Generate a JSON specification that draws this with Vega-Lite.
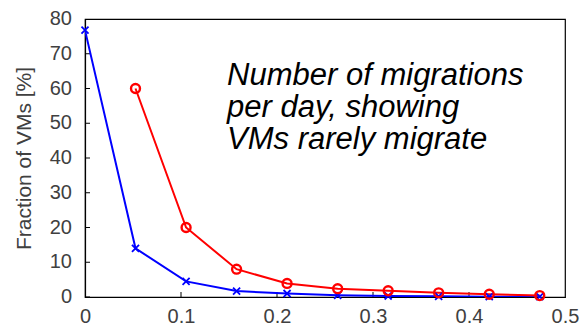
{
  "$schema": "https://vega.github.io/schema/vega-lite/v6.json",
  "width": 480,
  "height": 278,
  "autosize": {"type": "none"},
  "padding": {"left": 85, "top": 19, "right": 18, "bottom": 29},
  "background": "white",
  "config": {
    "view": {"stroke": "black", "strokeWidth": 1.2},
    "font": "Liberation Sans",
    "axis": {
      "grid": false,
      "domainColor": "black",
      "domainWidth": 1.2,
      "ticks": false,
      "labelFont": "Liberation Sans",
      "labelFontSize": 20,
      "labelColor": "#404040",
      "titleFont": "Liberation Sans",
      "titleFontWeight": "normal",
      "titleColor": "#404040"
    }
  },
  "datasets": {
    "series": [
      {"x": 0.0, "y": 76.8, "s": "blue"},
      {"x": 0.0526, "y": 14.0, "s": "blue"},
      {"x": 0.1053, "y": 4.5, "s": "blue"},
      {"x": 0.1579, "y": 1.7, "s": "blue"},
      {"x": 0.2105, "y": 1.0, "s": "blue"},
      {"x": 0.2632, "y": 0.5, "s": "blue"},
      {"x": 0.3158, "y": 0.3, "s": "blue"},
      {"x": 0.3684, "y": 0.2, "s": "blue"},
      {"x": 0.4211, "y": 0.1, "s": "blue"},
      {"x": 0.4737, "y": 0.1, "s": "blue"},
      {"x": 0.0526, "y": 60.0, "s": "red"},
      {"x": 0.1053, "y": 20.0, "s": "red"},
      {"x": 0.1579, "y": 8.0, "s": "red"},
      {"x": 0.2105, "y": 3.9, "s": "red"},
      {"x": 0.2632, "y": 2.4, "s": "red"},
      {"x": 0.3158, "y": 1.8, "s": "red"},
      {"x": 0.3684, "y": 1.2, "s": "red"},
      {"x": 0.4211, "y": 0.8, "s": "red"},
      {"x": 0.4737, "y": 0.4, "s": "red"}
    ],
    "xticks": [{"v": 0.1}, {"v": 0.2}, {"v": 0.3}, {"v": 0.4}],
    "yticks": [{"v": 0}, {"v": 10}, {"v": 20}, {"v": 30}, {"v": 40}, {"v": 50}, {"v": 60}, {"v": 70}, {"v": 80}],
    "note": [
      {"x": 0.148, "y": 61.0, "t": ["Number of migrations", "per day, showing", "VMs rarely migrate"]}
    ]
  },
  "layer": [
    {
      "data": {"name": "yticks"},
      "mark": {"type": "tick", "orient": "horizontal", "size": 10, "thickness": 1, "color": "black", "clip": true, "opacity": 1},
      "encoding": {
        "y": {"field": "v", "type": "quantitative", "scale": {"domain": [0, 80], "nice": false}, "axis": {"title": "Fraction of VMs [%]", "titleFontSize": 21, "titlePadding": 51, "labels": false}},
        "x": {"datum": 0, "scale": {"domain": [0, 0.5], "nice": false}, "axis": {"title": null, "values": [0, 0.1, 0.2, 0.3, 0.4, 0.5], "format": ".1~f", "labelPadding": 9, "labelOverlap": false, "labelFlush": false}}
      }
    },
    {
      "data": {"name": "yticks"},
      "mark": {"type": "text", "align": "right", "baseline": "middle", "dx": -13, "font": "Liberation Sans", "fontSize": 20, "color": "#404040", "clip": false},
      "encoding": {
        "y": {"field": "v", "type": "quantitative"},
        "x": {"datum": 0},
        "text": {"field": "v", "type": "quantitative"}
      }
    },
    {
      "data": {"name": "xticks"},
      "mark": {"type": "tick", "orient": "vertical", "size": 10, "thickness": 1, "color": "black", "clip": true, "opacity": 1},
      "encoding": {
        "x": {"field": "v", "type": "quantitative"},
        "y": {"datum": 0}
      }
    },
    {
      "data": {"name": "series"},
      "mark": {"type": "line", "strokeWidth": 2, "clip": true},
      "encoding": {
        "x": {"field": "x", "type": "quantitative"},
        "y": {"field": "y", "type": "quantitative"},
        "color": {"field": "s", "type": "nominal", "scale": {"domain": ["blue", "red"], "range": ["#0000ff", "#ff0000"]}, "legend": null},
        "detail": {"field": "s"}
      }
    },
    {
      "data": {"name": "series"},
      "transform": [{"filter": "datum.s == 'blue'"}],
      "mark": {"type": "point", "shape": "M-1,-1L1,1M-1,1L1,-1", "filled": false, "size": 50, "strokeWidth": 1.8, "color": "#0000ff", "opacity": 1},
      "encoding": {
        "x": {"field": "x", "type": "quantitative"},
        "y": {"field": "y", "type": "quantitative"}
      }
    },
    {
      "data": {"name": "series"},
      "transform": [{"filter": "datum.s == 'red'"}],
      "mark": {"type": "point", "shape": "circle", "filled": false, "size": 80, "strokeWidth": 2.4, "color": "#ff0000", "opacity": 1},
      "encoding": {
        "x": {"field": "x", "type": "quantitative"},
        "y": {"field": "y", "type": "quantitative"}
      }
    },
    {
      "data": {"name": "note"},
      "mark": {"type": "text", "align": "left", "baseline": "alphabetic", "font": "Liberation Sans", "fontStyle": "italic", "fontSize": 31, "lineHeight": 32, "color": "black"},
      "encoding": {
        "x": {"field": "x", "type": "quantitative"},
        "y": {"field": "y", "type": "quantitative"},
        "text": {"field": "t"}
      }
    }
  ]
}
